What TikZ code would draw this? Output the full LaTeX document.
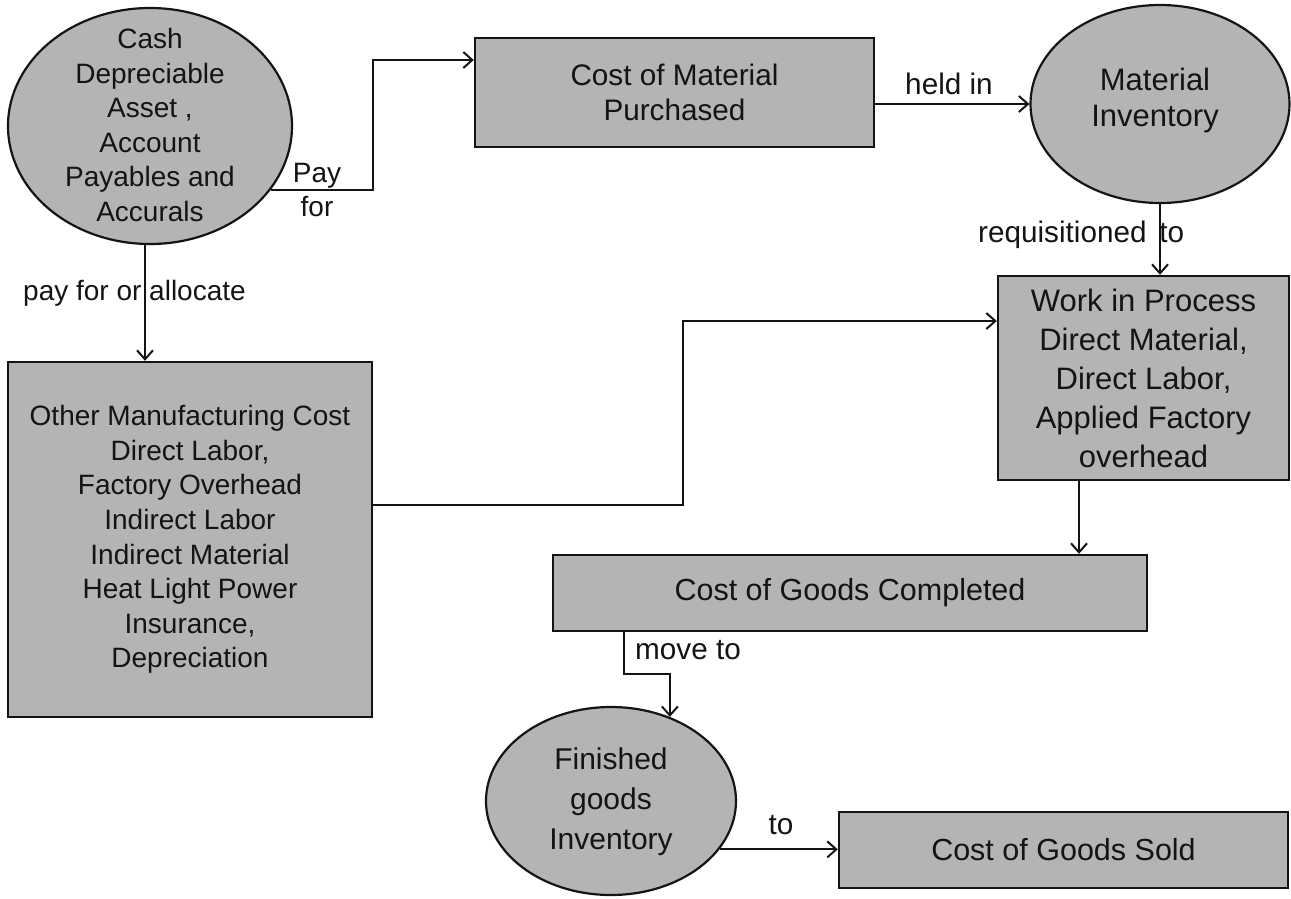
\documentclass[tikz,border=0pt]{standalone}
\usepackage{fontspec}
\setmainfont{Liberation Sans}
\usetikzlibrary{arrows.meta,shapes.geometric,calc}
\definecolor{boxgray}{RGB}{180,180,180}
\definecolor{inkk}{RGB}{20,20,20}
\begin{document}
\begin{tikzpicture}[x=1pt,y=-1pt,
  box/.style={draw=inkk, line width=2.4pt, fill=boxgray, rectangle, inner sep=0pt, align=center, text=inkk},
  oval/.style={draw=inkk, line width=2.2pt, fill=boxgray, ellipse, inner sep=0pt},
  txt/.style={align=center, inner sep=0pt, text=inkk},
  conn/.style={draw=inkk, line width=2pt, -{Straight Barb[length=9pt,width=16pt]}},
  fa/.style={font=\fontsize{28}{34.6}\selectfont},
  fb/.style={font=\fontsize{29.7}{35}\selectfont},
  fw/.style={font=\fontsize{31}{39}\selectfont},
  fc/.style={font=\fontsize{30.5}{36}\selectfont},
  fmi/.style={font=\fontsize{31}{36}\selectfont},
  ff/.style={font=\fontsize{30}{40}\selectfont}
]
\useasboundingbox (0,0) rectangle (1291,898);

% nodes
\node[oval, minimum width=284pt, minimum height=236pt] (cash) at (150,126) {};
\node[txt, fa] (cashT) at (150,125) {Cash\\Depreciable\\Asset ,\\Account\\Payables and\\Accurals};

\node[box, minimum width=399pt, minimum height=109pt, fb] (cmp) at (674.5,92.5) {Cost of Material\\Purchased};

\node[oval, minimum width=259pt, minimum height=198pt] (mi) at (1160,104) {};
\node[txt, fmi] (miT) at (1155,100) {Material\\Inventory};

\node[box, minimum width=291pt, minimum height=204pt, fw] (wip) at (1143.5,378) {Work in Process\\Direct Material,\\Direct Labor,\\Applied Factory\\overhead};

\node[box, minimum width=364pt, minimum height=355pt, fa] (oth) at (190,539.5) {Other Manufacturing Cost\\Direct Labor,\\Factory Overhead\\Indirect Labor\\Indirect Material\\Heat Light Power\\Insurance,\\Depreciation};

\node[box, minimum width=594pt, minimum height=76pt, fc] (cgc) at (850,593) {Cost of Goods Completed};

\node[oval, minimum width=250pt, minimum height=188pt] (fin) at (611,801) {};
\node[txt, ff] (finT) at (611,802) {Finished\\goods\\Inventory};

\node[box, minimum width=449pt, minimum height=76pt, fc] (cgs) at (1063.5,850) {Cost of Goods Sold};

% labels
\node[txt, fa] (lpay) at (317,190) {Pay\\for};
\node[txt, fa, anchor=west] (lalloc) at (23,293) {pay for or allocate};
\node[txt, fb] (lheld) at (949,84) {held in};
\node[txt, fb, anchor=west] (lreq) at (978,235) {requisitioned\hspace{4.5pt} to};
\node[txt, fb] (lmove) at (688,650) {move to};
\node[txt, fb] (lto) at (781,825) {to};

% helper coordinates
\coordinate (p0) at (145,0);
\coordinate (p1) at (373,60);
\coordinate (p2) at (683,505);
\coordinate (p3) at (683,321);
\coordinate (p4) at (1079,0);
\coordinate (p5) at (624,674);

% connectors
\draw[conn] (cash.-28.4) -| (p1) -- (p1 -| cmp.west);
\draw[conn] (cmp.east |- mi.west) -- (mi.west);
\draw[conn] (mi.south) -- (mi.south |- wip.north);
\draw[conn] (cash.south -| p0) -- (oth.north -| p0);
\draw[conn] (p2 -| oth.east) -- (p2) -- (p3) -- (p3 -| wip.west);
\draw[conn] (wip.south -| p4) -- (cgc.north -| p4);
\draw[conn] (cgc.south -| p5) |- (p5 -| fin.55) -- (fin.55);
\draw[conn] (fin.-24.7) -- (fin.-24.7 -| cgs.west);
\end{tikzpicture}
\end{document}
